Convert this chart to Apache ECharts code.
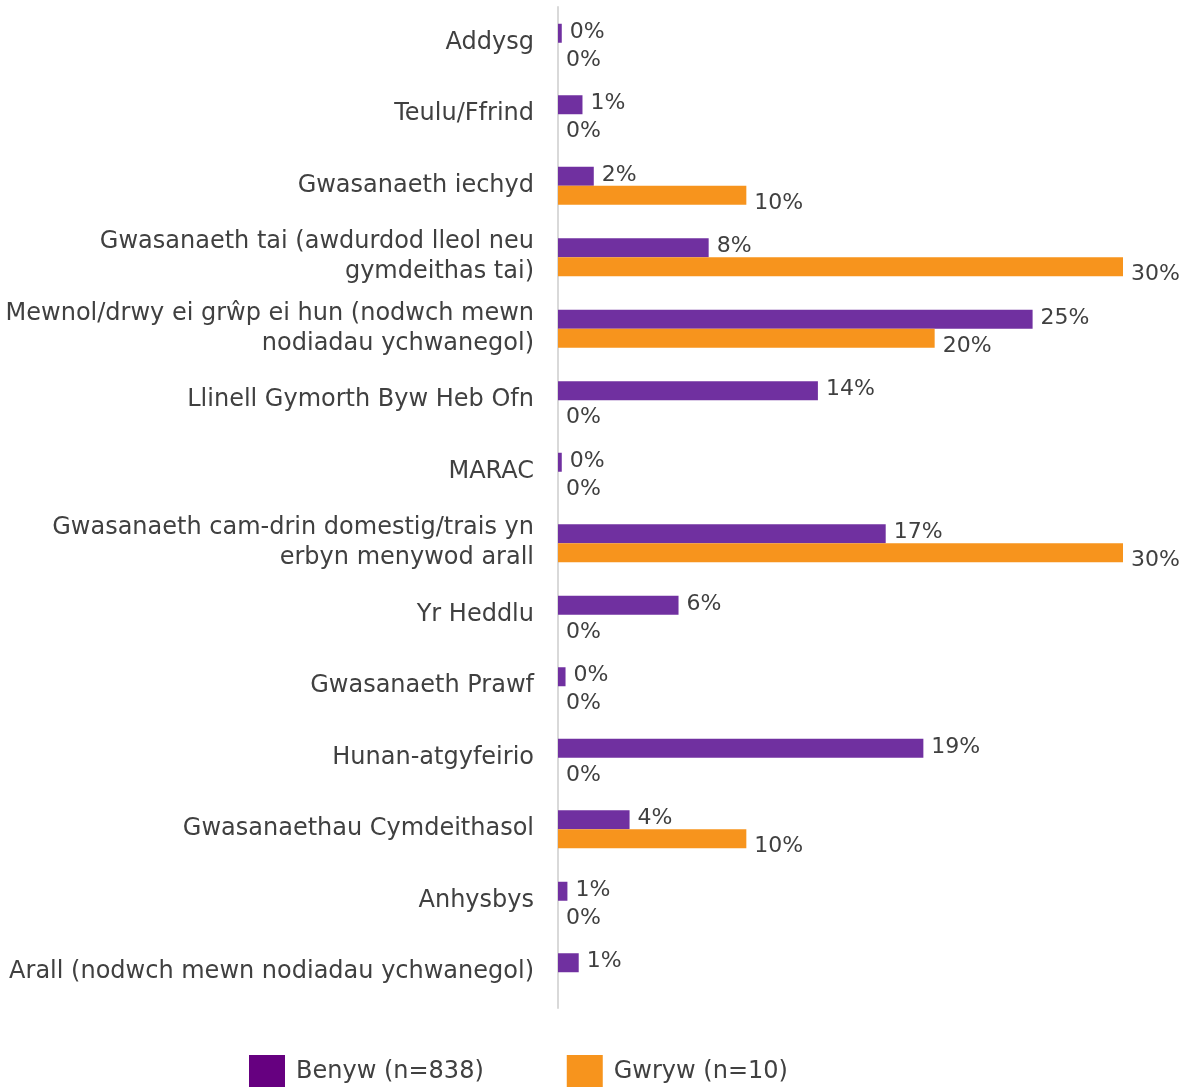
<!DOCTYPE html>
<html>
<head>
<meta charset="utf-8">
<script src="https://cdn.jsdelivr.net/npm/echarts@6/dist/echarts.min.js"></script>
<style>
  html, body { margin: 0; padding: 0; background: #fff; }
  #chart { width: 1187px; height: 1087px; }
</style>
</head>
<body>
<div id="chart"></div>
<script>
// categories, top to bottom
const categories = [
  "Addysg",
  "Teulu/Ffrind",
  "Gwasanaeth iechyd",
  "Gwasanaeth tai (awdurdod lleol neu\ngymdeithas tai)",
  "Mewnol/drwy ei grŵp ei hun (nodwch mewn\nnodiadau ychwanegol)",
  "Llinell Gymorth Byw Heb Ofn",
  "MARAC",
  "Gwasanaeth cam-drin domestig/trais yn\nerbyn menywod arall",
  "Yr Heddlu",
  "Gwasanaeth Prawf",
  "Hunan-atgyfeirio",
  "Gwasanaethau Cymdeithasol",
  "Anhysbys",
  "Arall (nodwch mewn nodiadau ychwanegol)"
];

// percentages
const benyw = [0.2, 1.3, 1.9, 8.0, 25.2, 13.8, 0.2, 17.4, 6.4, 0.4, 19.4, 3.8, 0.5, 1.1];
const gwryw = [0, 0, 10, 30, 20, 0, 0, 30, 0, 0, 0, 10, 0, null];

const seriesNames = ["Benyw (n=838)", "Gwryw (n=10)"];

const FONT = "'DejaVu Sans', 'Noto Sans', sans-serif";
const TEXT = "#404040";

function labelOpt(dy) {
  return {
    show: true,
    position: "right",
    distance: 8,
    offset: [0, dy],
    color: TEXT,
    fontFamily: FONT,
    fontSize: 22,
    formatter: (p) => Math.round(p.value) + "%"
  };
}

const chart = echarts.init(document.getElementById("chart"));
chart.setOption({
  animation: false,
  textStyle: { fontFamily: FONT, color: TEXT },
  grid: { left: 558, right: 64, top: 7, bottom: 79 },
  legend: {
    top: 1055,
    left: 249,
    padding: 0,
    icon: "rect",
    itemWidth: 36,
    itemHeight: 34,
    itemGap: 83,
    textStyle: { fontSize: 24, color: TEXT, fontFamily: FONT, padding: [0, 0, 0, 6] },
    data: [
      { name: seriesNames[0], itemStyle: { color: "#660080" } },
      { name: seriesNames[1], itemStyle: { color: "#F7941D" } }
    ]
  },
  xAxis: {
    type: "value",
    min: 0,
    max: 30,
    show: false,
    splitLine: { show: false }
  },
  yAxis: {
    type: "category",
    inverse: true,
    data: categories,
    axisLine: { show: true, lineStyle: { color: "#d9d9d9", width: 2 } },
    axisTick: { show: false },
    axisLabel: {
      margin: 24,
      color: TEXT,
      fontFamily: FONT,
      fontSize: 24,
      lineHeight: 30,
      align: "right"
    }
  },
  series: [
    {
      name: seriesNames[0],
      type: "bar",
      data: benyw,
      barWidth: 19,
      barGap: "0%",
      itemStyle: { color: "#7030A0" },
      label: labelOpt(-1)
    },
    {
      name: seriesNames[1],
      type: "bar",
      data: gwryw,
      barWidth: 19,
      barGap: "0%",
      itemStyle: { color: "#F7941D" },
      label: labelOpt(8)
    }
  ]
});
</script>
</body>
</html>
